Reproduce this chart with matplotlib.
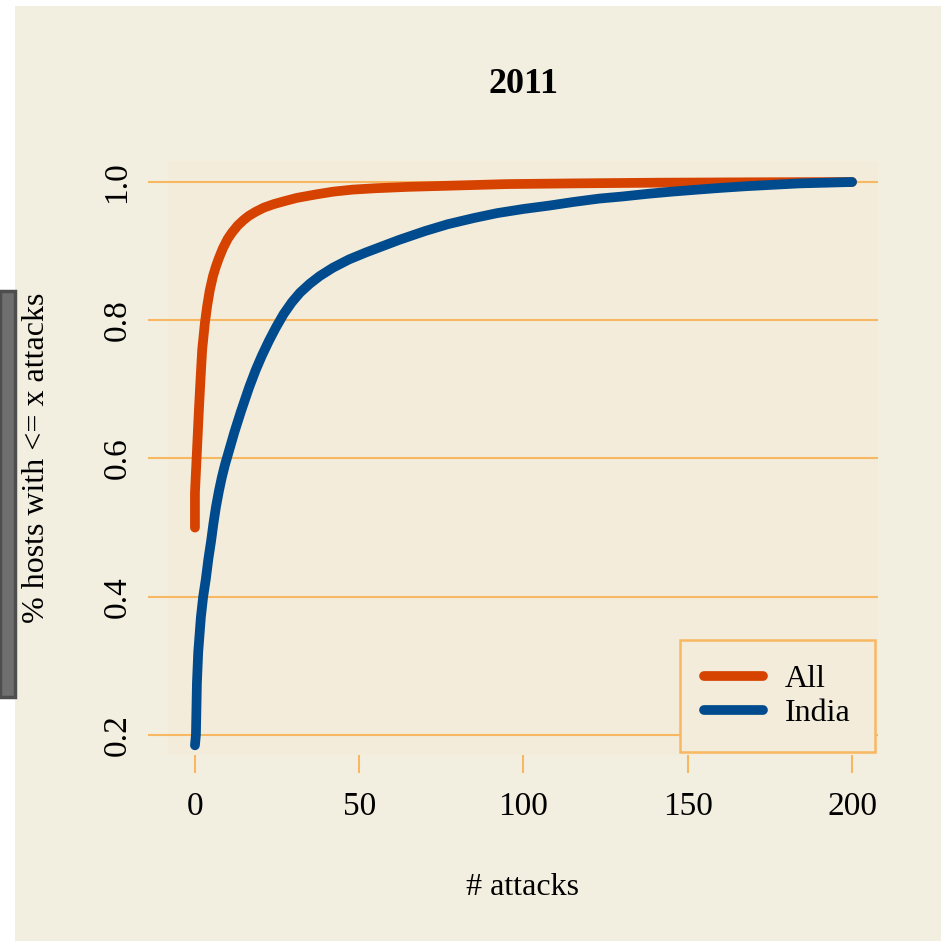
import matplotlib
matplotlib.use('Agg')
import matplotlib.pyplot as plt
from matplotlib.patches import Rectangle

all_x = [0, 0, 0.4, 0.8, 1.2, 1.7, 2.2, 3, 3.7, 4.5, 5.5, 6.4, 7.3, 8.5, 10, 11.3, 13, 14.8, 16.4, 18.5,
         21, 24, 27, 31, 36.8, 42, 48, 55, 65, 80, 95, 115, 140, 170, 200]
all_y = [0.50, 0.55, 0.59, 0.63, 0.67, 0.715, 0.757, 0.795, 0.82, 0.843, 0.864, 0.878, 0.89, 0.904, 0.918,
         0.927, 0.937, 0.945, 0.951, 0.957, 0.963, 0.968, 0.972, 0.977, 0.982, 0.986, 0.989, 0.991, 0.993,
         0.995, 0.997, 0.998, 0.999, 0.9996, 1.0]

india_x = [0, 0.3, 0.6, 1, 1.8, 2.5, 3.3, 4.1, 4.9, 5.6, 6.4, 7.3, 8.2, 9.2, 10.3, 12, 14, 16.5, 18.5, 20.4,
           22.5, 24.7, 27, 29.5, 32, 35, 38, 42, 46.9, 52, 57, 62, 70, 77, 85, 92, 100, 108, 115, 123, 130,
           138, 145, 153, 160, 168, 176, 184, 192, 200]
india_y = [0.185, 0.20, 0.275, 0.32, 0.37, 0.40, 0.425, 0.455, 0.48, 0.505, 0.53, 0.553, 0.573, 0.592, 0.61,
           0.638, 0.668, 0.703, 0.728, 0.749, 0.770, 0.790, 0.809, 0.826, 0.840, 0.853, 0.864, 0.876, 0.888,
           0.898, 0.907, 0.916, 0.929, 0.939, 0.948, 0.955, 0.961, 0.966, 0.971, 0.976, 0.979, 0.983, 0.986,
           0.989, 0.9915, 0.994, 0.996, 0.998, 0.999, 1.0]

xticks = [0, 50, 100, 150, 200]
yticks = [0.2, 0.4, 0.6, 0.8, 1.0]

bg = '#f3efe0'
panel = '#f4ecda'
grid_c = '#f8b862'
red = '#d64200'
blue = '#004b8d'

plt.rcParams['font.family'] = ['Liberation Serif', 'DejaVu Serif']

W = 941
fig = plt.figure(figsize=(9.41, 9.41), dpi=100, facecolor='white')
fig.patches.append(Rectangle((15 / W, 0), (W - 15) / W, (W - 6) / W,
                             transform=fig.transFigure, facecolor=bg, edgecolor='none', zorder=-10))
# grey box on the left edge
fig.patches.append(Rectangle((0, 1 - 697 / W), 15 / W, 406 / W,
                             transform=fig.transFigure, facecolor='#6f6f6f', edgecolor='#4e4e4e',
                             linewidth=2.5, zorder=-10))

ax = fig.add_axes([168 / W, 1 - 755 / W, 710 / W, 594 / W])
ax.set_facecolor(panel)
for s in ax.spines.values():
    s.set_visible(False)

for yv in yticks:
    ax.axhline(yv, color=grid_c, lw=1.5, zorder=1)

ax.plot(all_x, all_y, color=red, lw=7, solid_capstyle='round', solid_joinstyle='round', label='All', zorder=3)
ax.plot(india_x, india_y, color=blue, lw=7, solid_capstyle='round', solid_joinstyle='round', label='India', zorder=4)

ax.set_xlim(-8.2, 207.9)
ax.set_ylim(0.171, 1.0304)
ax.set_xticks(xticks)
ax.set_xticklabels([str(v) for v in xticks])
ax.set_yticks(yticks)
ax.set_yticklabels(['%.1f' % v for v in yticks])
ax.tick_params(axis='both', colors=grid_c, labelcolor='black', labelsize=24, width=1.5)
ax.tick_params(axis='y', length=14.5, pad=11, labelrotation=90)
ax.tick_params(axis='x', length=13, pad=13)
for lbl in ax.get_yticklabels():
    lbl.set_va('center')

ax.set_title('2011', fontsize=26, fontweight='bold', pad=49)
ax.set_xlabel('# attacks', fontsize=23, labelpad=37)
ax.set_ylabel('% hosts with <= x attacks', fontsize=23, labelpad=37)

leg = ax.legend(loc='lower right', bbox_to_anchor=(1.0, 0.0), fontsize=23, frameon=True,
                fancybox=False, borderaxespad=0.1, handlelength=1.85, handletextpad=0.7,
                borderpad=0.75, labelspacing=0.15)
leg.get_frame().set_edgecolor(grid_c)
leg.get_frame().set_linewidth(1.8)
leg.get_frame().set_facecolor(panel)
leg.get_frame().set_alpha(1)

fig.savefig('out.png', dpi=100, facecolor='white')
